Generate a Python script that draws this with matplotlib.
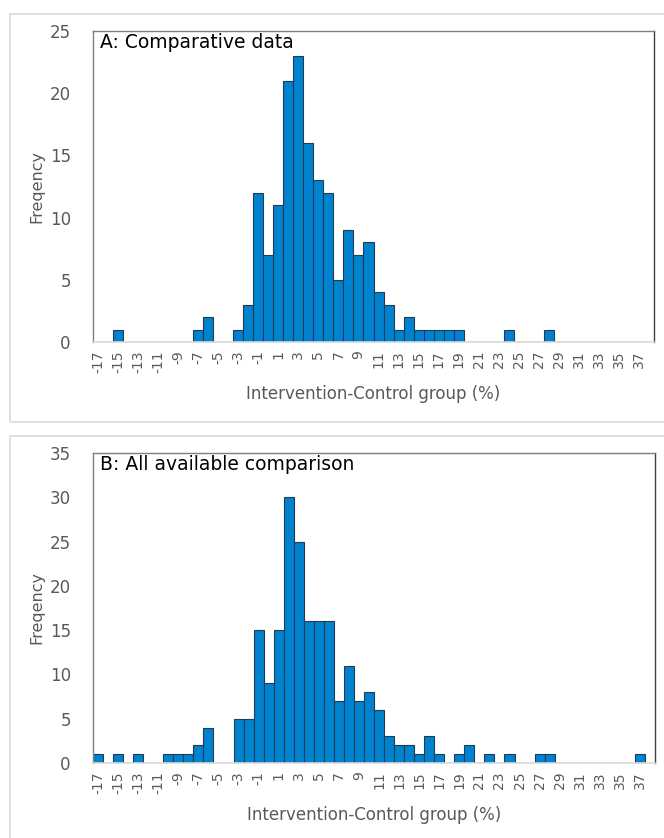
import matplotlib
matplotlib.use("Agg")
import matplotlib.pyplot as plt
from matplotlib.patches import Rectangle
import numpy as np

# bins -17 .. 38 (one bar per integer %)
bins = list(range(-17, 39))
counts_a = [0, 0, 1, 0, 0, 0, 0, 0, 0, 0,
            1, 2, 0, 0, 1, 3, 12,
            7, 11, 21, 23, 16, 13, 12, 5, 9, 7,
            8, 4, 3, 1, 2, 1, 1, 1, 1, 1,
            0, 0, 0, 0, 1, 0, 0, 0, 1, 0,
            0, 0, 0, 0, 0, 0, 0, 0, 0]
counts_b = [1, 0, 1, 0, 1, 0, 0, 1, 1, 1,
            2, 4, 0, 0, 5, 5, 15,
            9, 15, 30, 25, 16, 16, 16, 7, 11, 7,
            8, 6, 3, 2, 2, 1, 3, 1, 0, 1,
            2, 0, 1, 0, 1, 0, 0, 1, 1, 0,
            0, 0, 0, 0, 0, 0, 0, 1, 0]
tick_vals = list(range(-17, 38, 2))
titles = ["A: Comparative data", "B: All available comparison"]
ymaxes = [25, 35]
xlabel = "Intervention-Control group (%)"
ylabel = "Freqency"

W, H = 664, 838
fig = plt.figure(figsize=(W / 100, H / 100), dpi=100)
plt.rcParams['font.family'] = ['DejaVu Sans']

grey = "#595959"
bar_col = "#0082cf"
edge_col = "#233a55"

# outer chart-area frames (right side runs off the picture)
for (x0, y0, w, h) in [(10, 14, 700, 408), (10, 436, 700, 450)]:
    fig.patches.append(Rectangle((x0 / W, 1 - (y0 + h) / H), w / W, h / H,
                                 transform=fig.transFigure, fill=False,
                                 edgecolor="#d9d9d9", linewidth=1.2))

boxes = [(93, 31, 654, 342), (93, 453, 655, 763)]
for i, counts in enumerate([counts_a, counts_b]):
    l, t, r, b = boxes[i]
    ax = fig.add_axes([l / W, 1 - b / H, (r - l) / W, (b - t) / H])
    ax.bar(bins, counts, width=1.0, color=bar_col, edgecolor=edge_col, linewidth=0.8)
    ax.set_xlim(bins[0] - 0.5, bins[-1] + 0.5)
    ax.set_ylim(0, ymaxes[i])
    ax.set_yticks(range(0, ymaxes[i] + 1, 5))
    ax.set_xticks(tick_vals)
    ax.set_xticklabels([str(v) for v in tick_vals], rotation=90)
    ax.tick_params(axis="both", length=0, colors=grey)
    ax.tick_params(axis="x", labelsize=10, pad=6)
    ax.tick_params(axis="y", labelsize=12, pad=16)
    for s in ["left", "top", "right"]:
        ax.spines[s].set_color("#7f7f7f")
        ax.spines[s].set_linewidth(1.0)
    ax.spines["right"].set_color("#404040")
    ax.spines["bottom"].set_color("#d9d9d9")
    ax.spines["bottom"].set_linewidth(1.2)
    ax.text(0.012, 0.995, titles[i], transform=ax.transAxes, ha="left", va="top",
            fontsize=13.5, color="black")
    ax.set_xlabel(xlabel, fontsize=12, color=grey, labelpad=9)
    ax.set_ylabel(ylabel, fontsize=11.5, color=grey, labelpad=4)

fig.savefig("out.png", dpi=100)
